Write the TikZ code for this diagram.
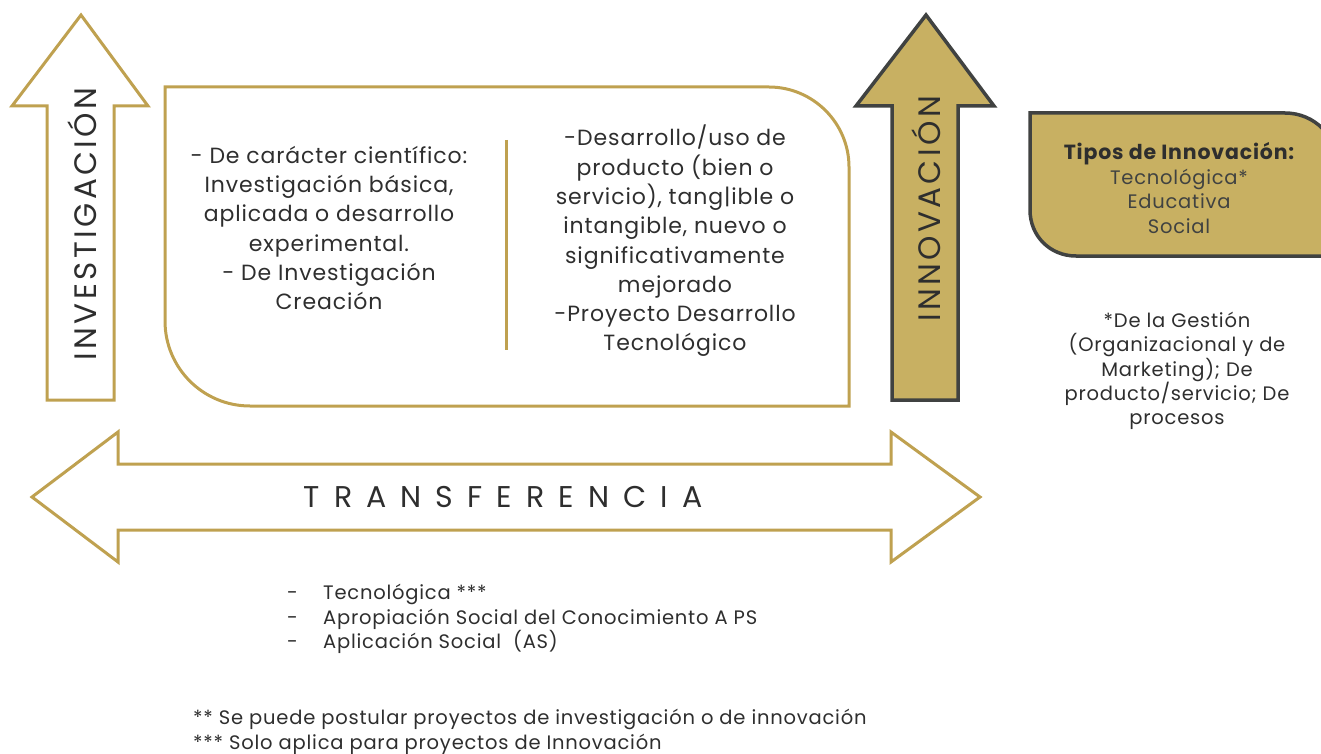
\documentclass[tikz,border=0pt]{standalone}
\usepackage{fontspec}
\setmainfont{Poppins}[LetterSpace=4]
\newfontfamily\arrowfont[LetterSpace=11]{Poppins}
\newfontfamily\wayfont[LetterSpace=47]{Poppins}
\usepackage{xcolor}
\definecolor{gold}{HTML}{BFA150}
\definecolor{goldfill}{HTML}{C8B062}
\definecolor{slate}{HTML}{404241}
\definecolor{ink}{HTML}{2E2E2E}

\begin{document}
\begin{tikzpicture}[x=1pt, y=-1pt,
    goldline/.style={draw=gold, line width=3pt, line join=miter},
    darkline/.style={draw=slate, line width=3.5pt, line join=miter},
    body/.style={text=ink, align=center, font=\fontsize{22}{29.3}\selectfont},
    small/.style={text=ink, align=center, font=\fontsize{19.5}{24.4}\selectfont}]
    \useasboundingbox (0,0) rectangle (1321,754);

    % flecha investigacion
    \draw[goldline, fill=white] (81,15) -- (148,106) -- (114,106) -- (114,400)
        -- (47,400) -- (47,106) -- (12,106) -- cycle;
    \node (inv) at (82,224) [rotate=90, text=ink, font=\arrowfont\fontsize{31}{31}\selectfont]{INVESTIGACIÓN};

    % flecha innovacion
    \draw[darkline, fill=goldfill] (926,15) -- (994,106) -- (958,106) -- (958,400)
        -- (892,400) -- (892,106) -- (856,106) -- cycle;
    \node (inn) at (926,209) [rotate=90, text=ink, font=\arrowfont\fontsize{31}{31}\selectfont]{INNOVACIÓN};

    % caja central
    \draw[goldline] (165,87) -- (769,87) .. controls (813,87) and (849,123) .. (849,167)
        -- (849,406) -- (250,406) .. controls (203,406) and (165,368) .. (165,321) -- cycle;
    \node (cien) at (329,228) [body]{- De carácter científico:\\Investigación básica,\\aplicada o desarrollo\\experimental.\\- De Investigación\\Creación};
    \node (prod) at (675,241) [body]{-Desarrollo/uso de\\producto (bien o\\servicio), tang|ible o\\intangible, nuevo o\\significativamente\\mejorado\\-Proyecto Desarrollo\\Tecnológico};
    \coordinate (sepA) at (506,140);
    \coordinate (sepB) at (506,350);
    \draw[gold, line width=3pt] (sepA) -- (sepB);

    % tipos de innovacion
    \begin{scope}
        \clip (0,0) rectangle (1321,754);
        \draw[darkline, fill=goldfill] (1030,113) -- (1285,113) .. controls (1315,113) and (1338,137) .. (1338,167)
            -- (1338,256) -- (1076,256) .. controls (1050,256) and (1030,236) .. (1030,210) -- cycle;
    \end{scope}
    \node (tipos) at (1179,188) [small, text=slate]{{\fontsize{20.5}{24.4}\selectfont\bfseries\color{ink}Tipos de Innovación:}\\Tecnológica*\\Educativa\\Social};
    \node (nota) at (1177,371) [small]{*De la Gestión\\(Organizacional y de\\Marketing); De\\producto/servicio; De\\procesos};

    % flecha transferencia
    \draw[goldline, fill=white] (32,497) -- (118,432) -- (118,464) -- (891,464) -- (891,432)
        -- (980,497) -- (891,562) -- (891,530) -- (118,530) -- (118,562) -- cycle;
    \node (trans) at (503,497) [text=ink, font=\wayfont\fontsize{30}{30}\selectfont]{TRANSFERENCIA};

    % tipos de transferencia
    \node (lista) at (287,619) [small, anchor=west, align=left, inner sep=0pt]{\makebox[36pt][l]{-}Tecnológica ***\\
        \makebox[36pt][l]{-}Apropiación Social del Conocimiento A PS\\
        \makebox[36pt][l]{-}Aplicación Social~ (AS)};
    \node (notas) at (193,732) [small, anchor=west, align=left, inner sep=0pt]{** Se puede postular proyectos de investigación o de innovación\\*** Solo aplica para proyectos de Innovación};
\end{tikzpicture}
\end{document}
